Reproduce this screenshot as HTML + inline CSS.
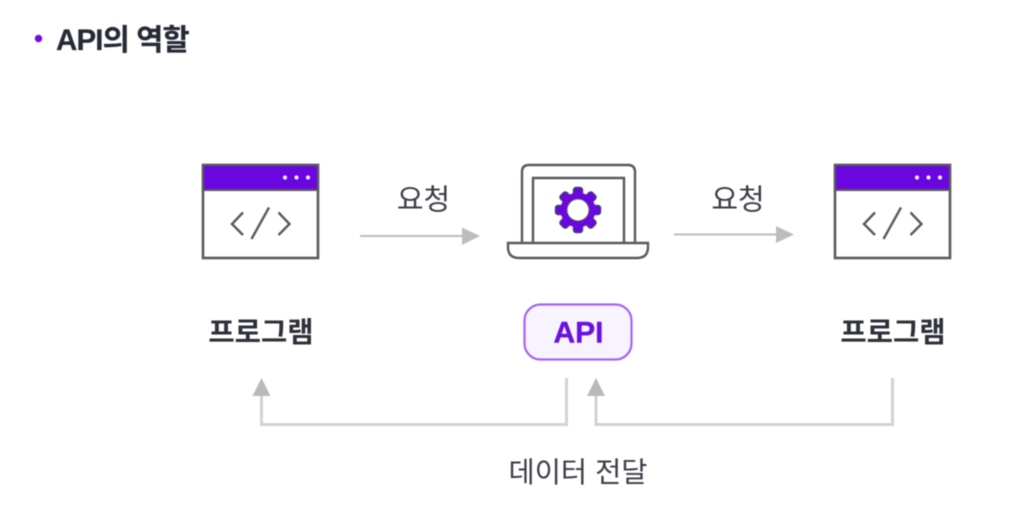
<!DOCTYPE html>
<html lang="ko">
<head>
<meta charset="utf-8">
<style>
html,body{margin:0;padding:0;background:#fff;width:1026px;height:532px;overflow:hidden}
svg{display:block;filter:blur(.5px)}
text{font-family:"Liberation Sans","Noto Sans CJK KR",sans-serif}
</style>
</head>
<body>
<svg width="1026" height="532" viewBox="0 0 1026 532" xmlns="http://www.w3.org/2000/svg">
<rect width="1026" height="532" fill="#fff"/>

<circle cx="38.500" cy="38.500" r="3.700" fill="#6a0fe6"/>
<text x="56" y="50" font-size="29.500" font-weight="700" fill="#262a35" letter-spacing="-.85" stroke="#262a35" stroke-width=".2">API의 역할</text>

<g>
<rect x="203" y="165" width="115" height="93" fill="#fff" stroke="#5a5a5a" stroke-width="2.600"/>
<rect x="203" y="165" width="115" height="25" fill="#6a06e0" stroke="#5a5a5a" stroke-width="2.100"/>
<circle cx="285" cy="177.500" r="2.100" fill="#f4eeff"/><circle cx="296.500" cy="177.500" r="2.100" fill="#f4eeff"/><circle cx="308" cy="177.500" r="2.100" fill="#f4eeff"/>
<path d="M243 212.500 232 224 243 235M251.500 239 269 207.500M278.500 212.500 289.500 224 278.500 235" fill="none" stroke="#5a5a5a" stroke-width="2.400"/>
</g>
<g transform="translate(632 0)">
<rect x="203" y="165" width="115" height="93" fill="#fff" stroke="#5a5a5a" stroke-width="2.600"/>
<rect x="203" y="165" width="115" height="25" fill="#6a06e0" stroke="#5a5a5a" stroke-width="2.100"/>
<circle cx="285" cy="177.500" r="2.100" fill="#f4eeff"/><circle cx="296.500" cy="177.500" r="2.100" fill="#f4eeff"/><circle cx="308" cy="177.500" r="2.100" fill="#f4eeff"/>
<path d="M243 212.500 232 224 243 235M251.500 239 269 207.500M278.500 212.500 289.500 224 278.500 235" fill="none" stroke="#5a5a5a" stroke-width="2.400"/>
</g>

<path d="M522 243V172Q522 165 529 165H628Q635 165 635 172V243" fill="#fff" stroke="#5a5a5a" stroke-width="2.400"/>
<path d="M533 243V178H624V243" fill="#fff" stroke="#5a5a5a" stroke-width="2.400"/>
<path d="M508 243H648V247Q648 258 637 258H519Q508 258 508 247Z" fill="#fff" stroke="#5a5a5a" stroke-width="2.400"/>

<g transform="translate(578 210)" fill="#6a06e0" stroke="#4b3a70" stroke-width="1.400">
<rect x="-4.500" y="-22.500" width="9" height="45" rx="2.500"/>
<rect x="-4.500" y="-22.500" width="9" height="45" rx="2.500" transform="rotate(45)"/>
<rect x="-4.500" y="-22.500" width="9" height="45" rx="2.500" transform="rotate(90)"/>
<rect x="-4.500" y="-22.500" width="9" height="45" rx="2.500" transform="rotate(135)"/>
<circle r="17.500" stroke="none"/>
<circle r="11" fill="#fff" stroke="#5f5f5f" stroke-width="1"/>
</g>

<path d="M360 236H463" stroke="#bdbdbd" stroke-width="2" fill="none"/>
<path d="M462 227.500 480 236 462 245Z" fill="#bdbdbd"/>
<path d="M674 234.500H777" stroke="#bdbdbd" stroke-width="2" fill="none"/>
<path d="M776 226 794 234.500 776 243Z" fill="#bdbdbd"/>

<text x="423.500" y="209.500" font-size="29" fill="#3a3d45" text-anchor="middle">요청</text>
<text x="738" y="209.500" font-size="29" fill="#3a3d45" text-anchor="middle">요청</text>

<text x="261" y="342" font-size="28.600" font-weight="700" fill="#2e3139" text-anchor="middle">프로그램</text>
<text x="893" y="342" font-size="28.600" font-weight="700" fill="#2e3139" text-anchor="middle">프로그램</text>

<rect x="524.500" y="304.500" width="107" height="55" rx="16" fill="#f8f4ff" stroke="#a265f5" stroke-width="2.200"/>
<text x="578.500" y="342.500" font-size="30" font-weight="700" fill="#6a11e0" text-anchor="middle" stroke="#6a11e0" stroke-width=".4">API</text>

<path d="M566.500 378V424.500H261.500V394" fill="none" stroke="#d2d2d2" stroke-width="3"/>
<path d="M252.500 396 261.500 378 270.500 396Z" fill="#b9b9b9"/>
<path d="M892.500 378V424.500H596V394" fill="none" stroke="#d2d2d2" stroke-width="3"/>
<path d="M587 396 596 378 605 396Z" fill="#b9b9b9"/>

<text x="578" y="482" font-size="28.500" fill="#3a3d45" text-anchor="middle">데이터 전달</text>
</svg>
</body>
</html>
